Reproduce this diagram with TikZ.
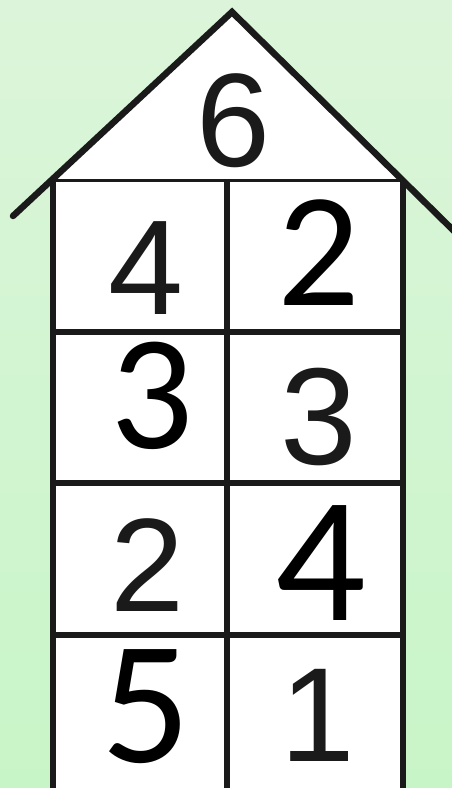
\documentclass[tikz,border=0pt]{standalone}
\usepackage{fontspec}
\usepackage{tikz}
\newfontfamily\arialnum{Liberation Sans}
\newfontfamily\calnum{Carlito}
\definecolor{bgtop}{RGB}{220,245,218}
\definecolor{bgbottom}{RGB}{200,245,200}
\definecolor{ink}{RGB}{26,26,26}
\tikzset{
  wall/.style={draw=ink, line width=6pt},
  roofline/.style={draw=ink, line width=6.5pt, line join=miter, line cap=round},
  numA/.style={inner sep=0pt, text=ink, font=\arialnum\fontsize{#1}{#1}\selectfont},
  numC/.style={inner sep=0pt, text=black, font=\calnum\fontsize{#1}{#1}\selectfont}
}
\begin{document}
\begin{tikzpicture}[x=1pt,y=1pt]
            \useasboundingbox (0,0) rectangle (452,788);
            % Background
            \shade[top color=bgtop, bottom color=bgbottom] (0,0) rectangle (452,788);
            % Roof
            \fill[white] (49,606) -- (232,776) -- (404,606) -- cycle;
            \draw[roofline] (13,572) -- (232,776) -- (456,555);
            \draw[wall] (49,606) -- (404,606);
            % Body
            \filldraw[fill=white, wall] (53,606) -- (53,-5) -- (403,-5) -- (403,606);
            \draw[wall] (227,606) -- (227,-5);
            \draw[wall] (53,456) -- (403,456);
            \draw[wall] (53,305) -- (403,305);
            \draw[wall] (53,153) -- (403,153);
            % Numbers
            \node[numA=133] (top) at (233,667) {6};
            \node[numA=135] (l1) at (146,520) {4};
            \node[numC=163] (r1) at (319,535) {2};
            \node[numC=164] (l2) at (152,392) {3};
            \node[numA=138] (r2) at (319,371) {3};
            \node[numA=133] (l3) at (147,223) {2};
            \node[numC=179] (r3) at (321,225) {4};
            \node[numC=176] (l4) at (146,81) {5};
            \node[numA=134] (r4) at (318,73) {1};
        \end{tikzpicture}
\end{document}
